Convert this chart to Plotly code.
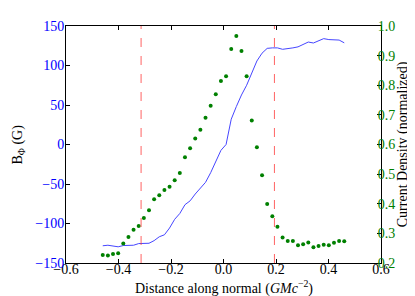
import numpy as np
import plotly.graph_objects as go

# Distance along normal (48 samples)
distance = list(np.round(np.linspace(-0.46, 0.46, 48), 4))

b_phi = [-128.2, -127.5, -128.5, -129.5, -127.9, -127.3, -127.5, -125.4, -125.4, -125.0,
         -121.7, -116.8, -114.3, -105.7, -94.7, -87.3, -76.2, -71.3, -62.7, -55.3,
         -47.9, -35.7, -20.9, -7.4, 0.0, 32.0, 48.0, 62.7, 75.0, 91.0,
         105.7, 115.6, 121.7, 122.3, 122.3, 120.5, 121.1, 122.3, 123.6, 126.6,
         129.7, 128.5, 131.6, 134.0, 132.8, 132.4, 132.2, 128.7]

current_density = [0.227, 0.225, 0.230, 0.233, 0.266, 0.288, 0.312, 0.325, 0.352, 0.378,
                   0.415, 0.429, 0.446, 0.457, 0.479, 0.504, 0.557, 0.587, 0.620, 0.650,
                   0.690, 0.731, 0.770, 0.814, 0.830, 0.922, 0.966, 0.916, 0.830, 0.681,
                   0.591, 0.496, 0.399, 0.358, 0.322, 0.286, 0.274, 0.274, 0.260, 0.263,
                   0.269, 0.253, 0.257, 0.262, 0.260, 0.268, 0.274, 0.273]

boundaries = [-0.314, 0.194]

x_ticks = [-0.6, -0.4, -0.2, 0.0, 0.2, 0.4, 0.6]

font = "Liberation Serif"
fs = 14

fig = go.Figure()
fig.add_trace(go.Scatter(x=distance, y=b_phi, mode="lines",
                         line=dict(color="rgb(70,70,255)", width=1), yaxis="y"))
fig.add_trace(go.Scatter(x=distance, y=current_density, mode="markers",
                         marker=dict(color="#008000", size=4), yaxis="y2"))

for b in boundaries:
    fig.add_shape(type="line", xref="x", yref="paper", x0=b, x1=b, y0=0, y1=1,
                  line=dict(color="rgba(255,60,60,0.8)", width=1, dash="dash"))

fig.add_annotation(text="B<sub>Φ</sub> (G)", xref="paper", yref="paper",
                   x=-0.152, y=0.5, xanchor="center", yanchor="middle",
                   textangle=-90, showarrow=False, font=dict(size=fs, color="black"))
fig.add_annotation(text="Current Density (normalized)", xref="paper", yref="paper",
                   x=1.069, y=0.5, xanchor="center", yanchor="middle",
                   textangle=-90, showarrow=False, font=dict(size=fs, color="black"))
fig.add_annotation(text="Distance along normal (<i>GMc</i><sup>−2</sup>)",
                   xref="paper", yref="paper", x=0.5, y=-0.1025,
                   xanchor="center", yanchor="middle", showarrow=False,
                   font=dict(size=fs, color="black"))

fig.update_layout(
    width=415, height=296,
    margin=dict(l=58, r=42, t=11, b=41),
    paper_bgcolor="white", plot_bgcolor="white",
    showlegend=False,
    font=dict(family=font, size=fs, color="black"),
    xaxis=dict(range=[-0.6, 0.6], tickvals=x_ticks, tickformat=".1f",
               showgrid=False, zeroline=False, showline=True, linecolor="black",
               linewidth=1, mirror="ticks", ticks="inside", ticklen=4,
               tickcolor="black", ticklabelstandoff=-7,
               tickfont=dict(size=fs, color="black")),
    yaxis=dict(range=[-150, 150], dtick=50, showgrid=False, zeroline=False,
               showline=True, linecolor="black", linewidth=1, ticks="inside",
               ticklen=4, tickcolor="black", ticklabelstandoff=-2,
               tickfont=dict(size=fs, color="blue")),
    yaxis2=dict(range=[0.2, 1.0], dtick=0.1, tickformat=".1f", overlaying="y",
                side="right", showgrid=False, zeroline=False, showline=True,
                linecolor="black", linewidth=1, ticks="inside", ticklen=4,
                tickcolor="black", ticklabelstandoff=-7,
                tickfont=dict(size=fs, color="green")),
)

fig.write_html("out.html")
